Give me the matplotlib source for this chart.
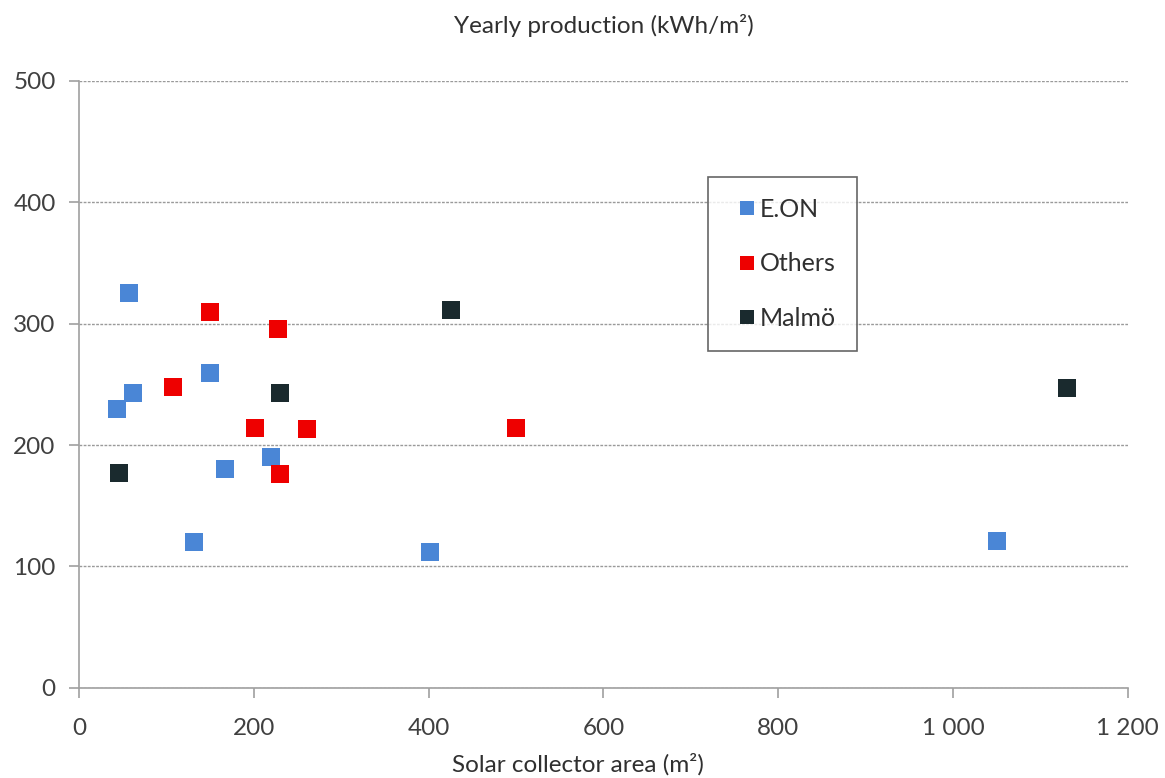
"""
Scatter chart of solar collector area vs yearly production
"""

import matplotlib
matplotlib.use("Agg")
import matplotlib.pyplot as plt
from matplotlib.ticker import FixedLocator

# Data
eon_area = [43, 57, 62, 150, 167, 219, 131, 401, 1050]
eon_prod = [230, 325, 243, 259, 180, 190, 120, 112, 121]

others_area = [107, 150, 227, 201, 261, 230, 500]
others_prod = [248, 310, 296, 214, 213, 176, 214]

malmo_area = [46, 230, 426, 1130]
malmo_prod = [177, 243, 311, 247]

x_ticks = [0, 200, 400, 600, 800, 1000, 1200]
x_tick_labels = ["0", "200", "400", "600", "800", "1 000", "1 200"]
y_ticks = [0, 100, 200, 300, 400, 500]

plt.rcParams['font.family'] = ['Lato', 'DejaVu Sans']

fig = plt.figure(figsize=(11.65, 7.78), dpi=100)
ax = fig.add_axes([0.068, 0.116, 0.900, 0.780])

ms = 13
ax.plot(eon_area, eon_prod, 's', color='#4A86D6', markersize=ms,
        markeredgewidth=0, label='E.ON', zorder=3)
ax.plot(others_area, others_prod, 's', color='#EE0000', markersize=ms,
        markeredgewidth=0, label='Others', zorder=3)
ax.plot(malmo_area, malmo_prod, 's', color='#1A2A2E', markersize=ms,
        markeredgewidth=0, label='Malmö', zorder=3)

ax.set_xlim(0, 1200)
ax.set_ylim(0, 500)
ax.xaxis.set_major_locator(FixedLocator(x_ticks))
ax.set_xticklabels(x_tick_labels)
ax.yaxis.set_major_locator(FixedLocator(y_ticks))

# Grid and spines
ax.yaxis.grid(True, color='#9A9A9A', linestyle=(0, (2, 1)), linewidth=1.0)
ax.set_axisbelow(True)
for side in ['top', 'right']:
    ax.spines[side].set_visible(False)
for side in ['left', 'bottom']:
    ax.spines[side].set_color('#A0A0A0')
    ax.spines[side].set_linewidth(1.2)

ax.tick_params(axis='both', colors='#A0A0A0', labelcolor='#404040',
               labelsize=17.5, length=7, width=1.2)
ax.tick_params(axis='x', pad=15)
ax.tick_params(axis='y', pad=10)

# Axis titles (the x title sits a bit left of the plot centre)
fig.text(0.496, 0.017, "Solar collector area (m²)", ha='center',
         va='center', fontsize=17.5, color='#303030')
fig.text(0.518, 0.967, "Yearly production (kWh/m²)", ha='center',
         va='center', fontsize=17.5, color='#303030')

leg = ax.legend(loc='upper left', bbox_to_anchor=(0.600, 0.842),
                fontsize=18, frameon=True, fancybox=False,
                borderpad=0.85, labelspacing=1.25, handlelength=1.4,
                handletextpad=-0.2, markerscale=0.75, borderaxespad=0)
leg.get_frame().set_edgecolor('#404040')
leg.get_frame().set_linewidth(1.2)
for txt in leg.get_texts():
    txt.set_color('#303030')

plt.savefig("out.png", dpi=100)
plt.close()
